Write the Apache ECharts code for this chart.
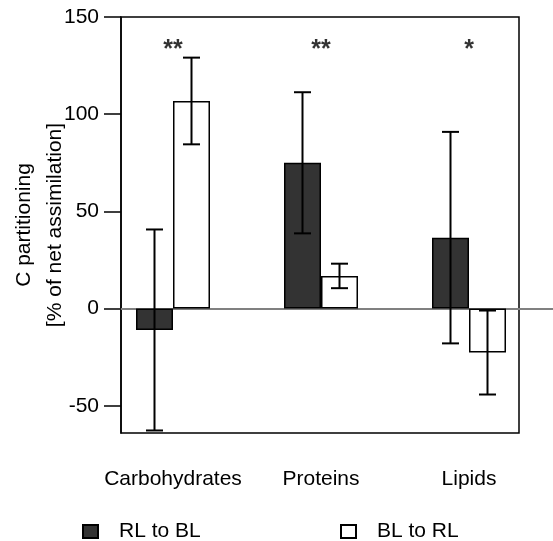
<!DOCTYPE html>
<html>
<head>
<meta charset="utf-8">
<script src="https://cdn.jsdelivr.net/npm/echarts@6/dist/echarts.min.js"></script>
<style>html,body{margin:0;padding:0;background:#fff}#c{width:553px;height:541px}</style>
</head>
<body>
<div id="c"></div>
<script>
const categories = ['Carbohydrates', 'Proteins', 'Lipids'];
const seriesNames = ['RL to BL', 'BL to RL'];
const rlMeans = [-11, 75, 36.5];
const rlErrs = [51.7, 36.3, 54.4];
const blMeans = [106.8, 16.8, -22.6];
const blErrs = [22.3, 6.3, 21.6];
const sigMarks = ['**', '**', '*'];
const yTicks = [-50, 0, 50, 100, 150];
const yMin = -64, yMax = 150;
const sigLevel = 133;

const FONT = 'Liberation Sans';
const FS = 21;
const BARW = 37;

function errRender(offset) {
  return function (params, api) {
    const i = api.value(0), m = api.value(1), e = api.value(2);
    const t = api.coord([i, m + e]);
    const b = api.coord([i, m - e]);
    const x = t[0] + offset;
    const cap = 8.5;
    const st = { stroke: '#000', lineWidth: 2 };
    return {
      type: 'group',
      children: [
        { type: 'line', shape: { x1: x, y1: t[1], x2: x, y2: b[1] }, style: st },
        { type: 'line', shape: { x1: x - cap, y1: t[1], x2: x + cap, y2: t[1] }, style: st },
        { type: 'line', shape: { x1: x - cap, y1: b[1], x2: x + cap, y2: b[1] }, style: st }
      ]
    };
  };
}

const chart = echarts.init(document.getElementById('c'));
const hiddenY = (gi) => ({ type: 'value', gridIndex: gi, min: yMin, max: yMax, show: false });

chart.setOption({
  animation: false,
  textStyle: { fontFamily: FONT, color: '#000' },
  grid: [
    { left: 121, right: 34, top: 17, bottom: 108, show: true, borderColor: '#000', borderWidth: 1.5, backgroundColor: 'transparent', outerBoundsMode: 'none', containLabel: false },
    { left: 99, right: 10, top: 17, bottom: 108, outerBoundsMode: 'none', containLabel: false },
    { left: 121, right: 0, top: 17, bottom: 108, outerBoundsMode: 'none', containLabel: false }
  ],
  xAxis: [
    { type: 'category', gridIndex: 0, data: categories, show: false },
    { type: 'category', gridIndex: 1, data: categories, axisLine: { show: false }, axisTick: { show: false },
      axisLabel: { interval: 0, fontSize: FS, color: '#000', fontFamily: FONT, margin: 36 } },
    { type: 'category', gridIndex: 2, data: categories, axisLine: { show: true, onZero: true, lineStyle: { color: '#808080', width: 2 } },
      axisTick: { show: false }, axisLabel: { show: false } }
  ],
  yAxis: [
    { type: 'value', gridIndex: 0, min: yMin, max: yMax,
      name: 'C partitioning\n[% of net assimilation]', nameLocation: 'middle', nameGap: 50, nameMoveOverlap: false,
      nameTextStyle: { fontSize: FS, color: '#000', fontFamily: FONT, lineHeight: 31 },
      axisLine: { show: true, lineStyle: { color: '#000', width: 1.5 } },
      axisTick: { show: true, length: 17, lineStyle: { color: '#000', width: 1.5 }, customValues: yTicks },
      axisLabel: { fontSize: FS, color: '#000', fontFamily: FONT, margin: 22, customValues: yTicks },
      splitLine: { show: false } },
    hiddenY(1),
    hiddenY(2)
  ],
  legend: [
    { data: [seriesNames[0]], left: 82, top: 521, padding: 0, itemWidth: 15, itemHeight: 13, icon: 'rect',
      textStyle: { fontSize: FS, color: '#000', fontFamily: FONT, padding: [0, 0, 0, 16] } },
    { data: [seriesNames[1]], left: 340, top: 521, padding: 0, itemWidth: 15, itemHeight: 13, icon: 'rect',
      textStyle: { fontSize: FS, color: '#000', fontFamily: FONT, padding: [0, 0, 0, 16] } }
  ],
  series: [
    { name: seriesNames[0], type: 'bar', xAxisIndex: 1, yAxisIndex: 1, data: rlMeans, barWidth: BARW, barGap: '0%',
      itemStyle: { color: '#333333', borderColor: '#000', borderWidth: 1.5 } },
    { name: seriesNames[1], type: 'bar', xAxisIndex: 1, yAxisIndex: 1, data: blMeans, barWidth: BARW, barGap: '0%',
      itemStyle: { color: '#ffffff', borderColor: '#000', borderWidth: 1.5 } },
    { type: 'custom', xAxisIndex: 1, yAxisIndex: 1, renderItem: errRender(-BARW / 2), clip: false, z: 5,
      data: rlMeans.map((m, i) => [i, m, rlErrs[i]]) },
    { type: 'custom', xAxisIndex: 1, yAxisIndex: 1, renderItem: errRender(BARW / 2), clip: false, z: 5,
      data: blMeans.map((m, i) => [i, m, blErrs[i]]) },
    { type: 'scatter', xAxisIndex: 1, yAxisIndex: 1, symbolSize: 0, silent: true,
      data: sigMarks.map((s, i) => [i, sigLevel]),
      label: { show: true, position: 'inside', fontSize: 25, fontWeight: 'bold', color: '#000', fontFamily: FONT,
        textBorderWidth: 0, formatter: (p) => sigMarks[p.dataIndex] } }
  ]
});
</script>
</body>
</html>
